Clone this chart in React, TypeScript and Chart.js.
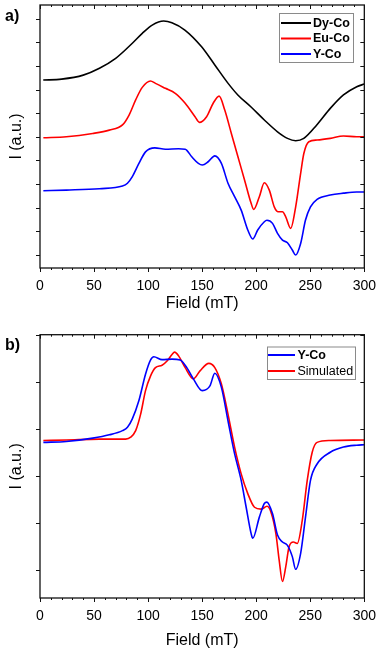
import React, { useEffect, useRef } from "react";
import { Chart, registerables } from "chart.js";

Chart.register(...registerables);

const FONT = "'Liberation Sans', Arial, Helvetica, sans-serif";

// ---------- Panel a ----------
const FIELD_DY = [3, 20, 40, 55, 70, 85.4, 94.6, 103.8, 114.4, 122, 134, 149.5, 161.7, 174, 183, 195, 207.5, 219.7, 228.9, 236.5, 244, 256, 268.5, 280.7, 293, 300];
const DY_CO = [7.40, 7.44, 7.61, 7.90, 8.32, 8.96, 9.38, 9.73, 9.90, 9.83, 9.52, 8.81, 8.04, 7.26, 6.77, 6.27, 5.71, 5.21, 4.93, 4.83, 4.93, 5.50, 6.20, 6.77, 7.12, 7.23];

const FIELD_EU = [3.1, 24.4, 48.8, 64.1, 76.3, 82.4, 88.5, 94.6, 102.2, 106.8, 116, 125.1, 134.3, 143.4, 147.4, 154.1, 160.2, 165.7, 170.9, 177, 183.1, 189.2, 195.3, 197.7, 202.9, 207.5, 212.1, 216.7, 220.3, 224.3, 227.3, 231.9, 236.5, 241.1, 244.1, 248.7, 256.3, 268.5, 280.7, 292.9, 300];
const EU_CO = [4.96, 5.00, 5.14, 5.28, 5.50, 5.92, 6.56, 7.09, 7.36, 7.26, 7.05, 6.84, 6.42, 5.85, 5.61, 5.85, 6.42, 6.72, 6.13, 5.14, 4.15, 3.17, 2.18, 1.92, 2.46, 3.05, 2.74, 2.03, 1.82, 1.82, 1.61, 1.12, 2.03, 3.45, 4.30, 4.79, 4.86, 4.93, 5.03, 5.00, 5.00];

const FIELD_YA = [3.1, 24.4, 54.9, 76.3, 80.9, 85.4, 91.5, 97.6, 106.2, 116, 128.2, 134.3, 140.4, 146.5, 150.1, 155.6, 161.7, 167.8, 173.9, 180, 186.1, 192.2, 196.8, 201.4, 207.5, 209.9, 215.1, 219.7, 224.3, 228.9, 233.4, 236.5, 241.1, 245.6, 250.2, 256.3, 268.5, 280.7, 292.9, 300];
const Y_CO_A = [2.71, 2.74, 2.80, 2.91, 3.03, 3.31, 3.87, 4.36, 4.53, 4.47, 4.49, 4.47, 4.15, 3.87, 3.80, 3.94, 4.19, 3.87, 3.03, 2.46, 1.89, 1.05, 0.67, 1.05, 1.40, 1.46, 1.33, 0.91, 0.62, 0.51, 0.20, -0.01, 0.48, 1.47, 2.03, 2.35, 2.53, 2.61, 2.66, 2.66];

// ---------- Panel b ----------
const FIELD_YB = [3.1, 24.4, 48.8, 64.1, 76.3, 80.9, 85.4, 91.5, 97.6, 102.2, 105.3, 112.9, 122.1, 129.7, 135.8, 141.9, 150.1, 157.2, 161.7, 167.8, 173.9, 180, 186.1, 190.7, 195.3, 196.8, 202.9, 207.5, 209.9, 215.1, 219.7, 224.3, 228.9, 233.4, 236.5, 241.1, 245.6, 250.2, 256.3, 268.5, 280.7, 292.9, 300];
const Y_CO_B = [2.71, 2.73, 2.80, 2.87, 2.96, 3.03, 3.21, 3.60, 4.16, 4.46, 4.53, 4.47, 4.48, 4.46, 4.30, 4.06, 3.81, 3.91, 4.18, 3.88, 3.17, 2.47, 1.90, 1.33, 0.77, 0.67, 1.12, 1.41, 1.44, 1.19, 0.74, 0.59, 0.52, 0.28, 0.01, 0.35, 1.12, 1.90, 2.25, 2.50, 2.61, 2.65, 2.66];

const FIELD_SIM = [3.1, 24.4, 54.9, 79.3, 83.9, 88.5, 93.1, 97.6, 102.2, 106.8, 112.9, 117.5, 122.1, 124.5, 128.2, 134.3, 141.9, 148, 156.2, 161.7, 167.8, 173.9, 180, 186.1, 192.2, 198.4, 204.5, 210, 213.6, 218.2, 221.2, 224.3, 227.3, 230.4, 234.4, 238, 242.6, 247.2, 251.8, 256.3, 268.5, 300];
const SIMULATED = [2.75, 2.76, 2.78, 2.78, 2.82, 2.96, 3.31, 3.81, 4.12, 4.30, 4.35, 4.44, 4.58, 4.63, 4.55, 4.30, 4.06, 4.23, 4.39, 4.30, 3.95, 3.31, 2.61, 2.04, 1.62, 1.33, 1.29, 1.35, 1.23, 0.77, 0.21, -0.25, 0.06, 0.49, 0.59, 0.56, 1.05, 1.90, 2.50, 2.71, 2.75, 2.76];

const X_TICKS = [0, 50, 100, 150, 200, 250, 300];
const Y_TICKS_A = [0, 1, 2, 3, 4, 5, 6, 7, 8, 9, 10];
const Y_TICKS_B = [0, 1, 2, 3, 4, 5];

const pts = (xs: number[], ys: number[]) => xs.map((x, i) => ({ x, y: ys[i] }));

function frameTicksPlugin(yTicks: number[]) {
  return {
    id: "frameTicks",
    afterDatasetsDraw(chart: any) {
      const { ctx, chartArea: a, scales } = chart;
      const xs = scales.x, ys = scales.y;
      ctx.save();
      ctx.strokeStyle = "#111";
      ctx.lineWidth = 1.3;
      ctx.strokeRect(a.left, a.top, a.right - a.left, a.bottom - a.top);
      ctx.lineWidth = 1;
      ctx.beginPath();
      for (let v = 0; v <= 300; v += 10) {
        const px = Math.round(xs.getPixelForValue(v)) + 0.5;
        const len = X_TICKS.includes(v) ? 4 : 2;
        ctx.moveTo(px, a.bottom);
        ctx.lineTo(px, a.bottom + len);
        ctx.moveTo(px, a.top);
        ctx.lineTo(px, a.top + len);
      }
      for (const v of yTicks) {
        const py = Math.round(ys.getPixelForValue(v)) + 0.5;
        ctx.moveTo(a.left, py);
        ctx.lineTo(a.left - 4, py);
        ctx.moveTo(a.right, py);
        ctx.lineTo(a.right - 4, py);
      }
      ctx.stroke();
      ctx.restore();
    },
  };
}

type LegendCfg = {
  box: [number, number, number, number];
  rows: number[];
  line: [number, number];
  textX: number;
  fonts: string[];
};

function legendPlugin(cfg: LegendCfg) {
  return {
    id: "boxLegend",
    afterDraw(chart: any) {
      const { ctx } = chart;
      const [bx, by, bw, bh] = cfg.box;
      ctx.save();
      ctx.fillStyle = "#fff";
      ctx.fillRect(bx, by, bw, bh);
      ctx.strokeStyle = "#8a8a8a";
      ctx.lineWidth = 1;
      ctx.strokeRect(bx + 0.5, by + 0.5, bw, bh);
      chart.data.datasets.forEach((ds: any, i: number) => {
        const y = cfg.rows[i];
        ctx.strokeStyle = ds.borderColor;
        ctx.lineWidth = 2;
        ctx.beginPath();
        ctx.moveTo(cfg.line[0], y);
        ctx.lineTo(cfg.line[1], y);
        ctx.stroke();
        ctx.fillStyle = "#000";
        ctx.font = cfg.fonts[i];
        ctx.textBaseline = "middle";
        ctx.textAlign = "left";
        ctx.fillText(ds.label, cfg.textX, y + 0.5);
      });
      ctx.restore();
    },
  };
}

function makeConfig(
  datasets: any[],
  yMin: number,
  yMax: number,
  yTicks: number[],
  padTop: number,
  xHeight: number,
  titlePadBottom: number,
  legend: LegendCfg
): any {
  return {
    type: "line",
    data: { datasets },
    options: {
      animation: false,
      responsive: false,
      maintainAspectRatio: false,
      layout: { padding: { top: padTop, right: 18, left: 0, bottom: 0 } },
      plugins: { legend: { display: false }, tooltip: { enabled: false } },
      elements: {
        point: { radius: 0 },
        line: { borderWidth: 1.6, cubicInterpolationMode: "monotone" },
      },
      scales: {
        x: {
          type: "linear",
          min: 0,
          max: 300,
          grid: { display: false, drawTicks: false },
          border: { display: false },
          afterBuildTicks: (s: any) => {
            s.ticks = X_TICKS.map((v) => ({ value: v }));
          },
          ticks: { font: { family: FONT, size: 14 }, color: "#000", padding: 10, maxRotation: 0, autoSkip: false },
          title: {
            display: true,
            text: "Field (mT)",
            font: { family: FONT, size: 16 },
            color: "#000",
            padding: { top: 0, bottom: titlePadBottom },
          },
          afterFit: (s: any) => {
            s.height = xHeight;
          },
        },
        y: {
          type: "linear",
          min: yMin,
          max: yMax,
          grid: { display: false, drawTicks: false },
          border: { display: false },
          ticks: { display: false },
          title: {
            display: true,
            text: "I (a.u.)",
            font: { family: FONT, size: 16 },
            color: "#000",
            padding: { top: 6.5, bottom: 0 },
          },
          afterFit: (s: any) => {
            s.width = 40;
          },
        },
      },
    },
    plugins: [frameTicksPlugin(yTicks), legendPlugin(legend)],
  };
}

export default function App() {
  const refA = useRef<HTMLCanvasElement>(null);
  const refB = useRef<HTMLCanvasElement>(null);

  useEffect(() => {
    const chartA = new Chart(
      refA.current as HTMLCanvasElement,
      makeConfig(
        [
          { label: "Dy-Co", data: pts(FIELD_DY, DY_CO), borderColor: "#000000" },
          { label: "Eu-Co", data: pts(FIELD_EU, EU_CO), borderColor: "#ff0000" },
          { label: "Y-Co", data: pts(FIELD_YA, Y_CO_A), borderColor: "#0000ff" },
        ],
        -0.56,
        10.58,
        Y_TICKS_A,
        5,
        57,
        11.5,
        {
          box: [279, 13, 74, 49],
          rows: [23, 38.5, 54],
          line: [281, 311],
          textX: 313,
          fonts: [`bold 12.5px ${FONT}`, `bold 12.5px ${FONT}`, `bold 12.5px ${FONT}`],
        }
      )
    );
    const chartB = new Chart(
      refB.current as HTMLCanvasElement,
      makeConfig(
        [
          { label: "Y-Co", data: pts(FIELD_YB, Y_CO_B), borderColor: "#0000ff" },
          { label: "Simulated", data: pts(FIELD_SIM, SIMULATED), borderColor: "#ff0000" },
        ],
        -0.6,
        5.0,
        Y_TICKS_B,
        9.7,
        52,
        0,
        {
          box: [267, 21.5, 88, 32.5],
          rows: [30, 46],
          line: [268, 295],
          textX: 297.5,
          fonts: [`bold 12.5px ${FONT}`, `12.5px ${FONT}`],
        }
      )
    );
    return () => {
      chartA.destroy();
      chartB.destroy();
    };
  }, []);

  const labelStyle: React.CSSProperties = {
    position: "absolute",
    left: 5,
    font: `bold 16px ${FONT}`,
    lineHeight: "16px",
    color: "#000",
  };

  return (
    <div style={{ position: "absolute", left: 0, top: 0, width: 386, height: 650, background: "#fff" }}>
      <canvas ref={refA} width={386} height={325} style={{ position: "absolute", left: 0, top: 0, width: 386, height: 325 }} />
      <canvas ref={refB} width={386} height={325} style={{ position: "absolute", left: 0, top: 325, width: 386, height: 325 }} />
      <div style={{ ...labelStyle, top: 8 }}>a)</div>
      <div style={{ ...labelStyle, top: 337 }}>b)</div>
    </div>
  );
}
